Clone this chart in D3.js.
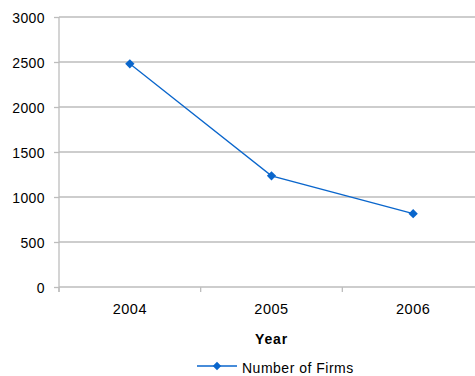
<!DOCTYPE html>
<html>
<head>
<meta charset="utf-8">
<script src="https://cdn.jsdelivr.net/npm/d3@7"></script>
<style>
  html, body { margin: 0; padding: 0; background: #fff; }
  svg { display: block; font-family: "Liberation Sans", Arial, sans-serif; }
</style>
</head>
<body>
<svg id="chart" width="475" height="376"></svg>
<script>
const years = ["2004", "2005", "2006"];
const firms = [2480, 1235, 815];
const yTicks = [0, 500, 1000, 1500, 2000, 2500, 3000];
const seriesName = "Number of Firms";
const xTitle = "Year";

const svg = d3.select("#chart");
const plotLeft = 59, plotRight = 484, plotTop = 17, plotBottom = 287;
const gridColor = "#bdbdbd";
const lineColor = "#0a66cc";
const font = "Liberation Sans, Arial, sans-serif";

const x = d3.scaleBand().domain(years).range([plotLeft, plotRight]);
const y = d3.scaleLinear().domain([0, 3000]).range([plotBottom, plotTop]);

// horizontal gridlines
svg.append("g").selectAll("line").data(yTicks).join("line")
  .attr("x1", plotLeft).attr("x2", plotRight)
  .attr("y1", d => y(d)).attr("y2", d => y(d))
  .attr("stroke", gridColor).attr("stroke-width", 1.3);

// y axis
const yAxis = svg.append("g").attr("transform", `translate(${plotLeft},0)`)
  .call(d3.axisLeft(y).tickValues(yTicks).tickFormat(d3.format("d")).tickSize(5).tickPadding(9));
yAxis.select(".domain").attr("stroke", gridColor).attr("stroke-width", 1.3)
  .attr("d", `M0,${plotTop}V${plotBottom + 5}`);
yAxis.selectAll(".tick line").attr("stroke", gridColor).attr("stroke-width", 1.3);
yAxis.selectAll(".tick text")
  .attr("font-size", 14).attr("fill", "#000").attr("font-family", font)
  .attr("letter-spacing", 0.4).attr("dy", "0.4em");

// x axis: ticks at category boundaries
const bounds = years.map(d => x(d)).concat([x(years[years.length - 1]) + x.bandwidth()]);
svg.append("g").selectAll("line").data(bounds).join("line")
  .attr("x1", d => d).attr("x2", d => d)
  .attr("y1", plotBottom).attr("y2", plotBottom + 5)
  .attr("stroke", gridColor).attr("stroke-width", 1.3);

svg.append("g").selectAll("text").data(years).join("text")
  .attr("x", d => x(d) + x.bandwidth() / 2)
  .attr("y", 314)
  .attr("text-anchor", "middle")
  .attr("font-size", 14.5)
  .attr("letter-spacing", 0.5)
  .text(d => d);

svg.append("text")
  .attr("x", x(years[1]) + x.bandwidth() / 2)
  .attr("y", 344)
  .attr("text-anchor", "middle")
  .attr("font-size", 14)
  .attr("font-weight", "bold")
  .attr("letter-spacing", 0.8)
  .text(xTitle);

// series line
const cx = d => x(d) + x.bandwidth() / 2;
const line = d3.line().x((d, i) => cx(years[i])).y(d => y(d));
svg.append("path").datum(firms)
  .attr("d", line)
  .attr("fill", "none")
  .attr("stroke", lineColor)
  .attr("stroke-width", 1.3);

const diamond = d3.symbol().type(d3.symbolDiamond2).size(55);
svg.append("g").selectAll("path").data(firms).join("path")
  .attr("transform", (d, i) => `translate(${cx(years[i])},${y(d)})`)
  .attr("d", diamond)
  .attr("fill", lineColor);

// legend
const lg = svg.append("g").attr("transform", "translate(197,366)");
lg.append("line").attr("x1", 0).attr("x2", 40).attr("y1", 0).attr("y2", 0)
  .attr("stroke", lineColor).attr("stroke-width", 1.3);
lg.append("path").attr("transform", "translate(20,0)")
  .attr("d", d3.symbol().type(d3.symbolDiamond2).size(45))
  .attr("fill", lineColor);
lg.append("text").attr("x", 45).attr("y", 7)
  .attr("font-size", 14)
  .attr("letter-spacing", 0.5)
  .text(seriesName);
</script>
</body>
</html>
